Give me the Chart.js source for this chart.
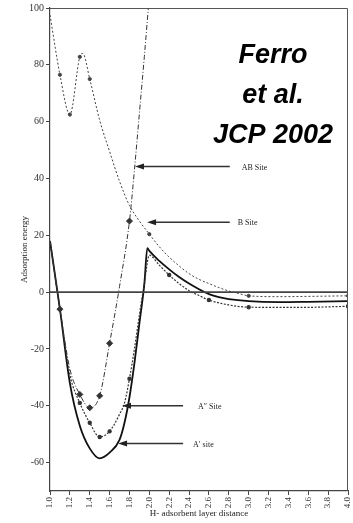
<!DOCTYPE html>
<html><head><meta charset="utf-8">
<script src="https://cdn.jsdelivr.net/npm/chart.js@4/dist/chart.umd.min.js"></script>
<style>html,body{margin:0;padding:0;background:#fff;}#wrap{width:353px;height:523px;}</style>
</head><body><div id="wrap"><canvas id="c" width="353" height="523"></canvas></div>
<script>
// ---- data ----
const xTicks = [1.0,1.2,1.4,1.6,1.8,2.0,2.2,2.4,2.6,2.8,3.0,3.2,3.4,3.6,3.8,4.0];
const yTicks = [-60,-40,-20,0,20,40,60,80,100];

// B site (dotted, upper)
const bX = [1.0,1.1,1.2,1.3,1.33,1.4,1.5,1.6,1.7,1.8,1.9,2.0,2.1,2.2,2.3,2.4,2.5,2.6,2.7,2.8,2.9,3.0,3.3,3.6,4.0];
const bY = [97.5,76.5,62.5,82.8,84,75,60.5,49.5,39,30.5,25,20.4,16,12.3,9.2,6.5,4.5,3,1.6,0.4,-0.5,-1.3,-1.6,-1.5,-1.3];
const bMarks = [1.1,1.2,1.3,1.4,2.0,3.0,4.0];

// AB site (dash-dot, diamonds)
const abX = [1.0,1.1,1.2,1.3,1.4,1.5,1.6,1.7,1.8,1.85,1.9,1.95,1.99];
const abY = [18,-6,-27,-36,-40.7,-36.5,-18,2,25,43,63,83,100];
const abMarks = [1.1,1.3,1.4,1.5,1.6,1.8];

// A'' site (dotted, small markers)
const appX = [1.0,1.1,1.2,1.3,1.4,1.5,1.6,1.7,1.75,1.8,1.85,1.9,1.95,2.0,2.1,2.2,2.3,2.4,2.5,2.6,2.8,3.0,3.5,4.0];
const appY = [18,-6,-29,-39,-46,-51,-49,-43,-39,-30.5,-20,-8,3,13,9.5,6,3,0.5,-1.2,-2.8,-4.5,-5.3,-5.4,-5];
const appMarks = [1.3,1.4,1.5,1.6,1.8,2.2,2.6,3.0,4.0];

// A' site (solid)
const apX = [1.0,1.1,1.2,1.3,1.4,1.5,1.6,1.7,1.75,1.8,1.85,1.9,1.95,1.98,2.0,2.1,2.2,2.3,2.4,2.5,2.6,2.7,2.8,3.0,3.3,3.6,4.0];
const apY = [18,-6,-32,-47,-55,-58.5,-56.5,-52,-46,-37,-25,-11,3,15.5,14.5,11,8,5.3,3,1,-0.7,-1.8,-2.5,-3.2,-3.5,-3.4,-3.2];

const zeroX = [1.0,4.0];
const zeroY = [0,0];

// arrows: label, tip, tail and label positions (data units)
const arrowLabels = ["AB Site","B Site","A\u2033 Site","A\u2032 site"];
const arrowTipX  = [1.856,1.977,1.725,1.685];
const arrowTipY  = [44.2,24.6,-40,-53.3];
const arrowTailX = [2.81,2.81,2.34,2.34];
const arrowTextX = [2.93,2.89,2.49,2.44];

const noteLines = ["Ferro","et al.","JCP 2002"];
const xTitle = "H- adsorbent layer distance";
const yTitle = "Adsorption energy";

const pts = (xs, ys) => xs.map((x,i)=>({x:x,y:ys[i]}));
const markR = (marks, r) => (ctx => (ctx.raw && marks.some(m=>Math.abs(m-ctx.raw.x)<1e-6)) ? r : 0);

const serif = '"Liberation Serif","DejaVu Serif",serif';

const overlay = {
  id:'overlay',
  afterDatasetsDraw(chart){
    const {ctx, chartArea:a, scales:{x,y}} = chart;
    ctx.save();
    ctx.strokeStyle='#555'; ctx.lineWidth=1;
    ctx.beginPath();
    ctx.moveTo(a.left, a.top+0.5); ctx.lineTo(a.right-0.5, a.top+0.5); ctx.lineTo(a.right-0.5, a.bottom);
    ctx.stroke();
    for (let i=0;i<arrowLabels.length;i++){
      const ty = y.getPixelForValue(arrowTipY[i]);
      const tx = x.getPixelForValue(arrowTipX[i]);
      const ex = x.getPixelForValue(arrowTailX[i]);
      ctx.strokeStyle='#333'; ctx.lineWidth=1.6;
      ctx.beginPath(); ctx.moveTo(tx+7, ty); ctx.lineTo(ex, ty); ctx.stroke();
      ctx.fillStyle='#222';
      ctx.beginPath(); ctx.moveTo(tx, ty); ctx.lineTo(tx+9, ty-3); ctx.lineTo(tx+9, ty+3); ctx.closePath(); ctx.fill();
      ctx.font='8px '+serif; ctx.fillStyle='#222'; ctx.textBaseline='middle'; ctx.textAlign='left';
      ctx.fillText(arrowLabels[i], x.getPixelForValue(arrowTextX[i]), ty+1);
    }
    ctx.font='italic bold 27px "Liberation Sans", Arial, sans-serif';
    ctx.fillStyle='#000'; ctx.textAlign='center'; ctx.textBaseline='alphabetic';
    noteLines.forEach((t,i)=>ctx.fillText(t, 273, 63+40*i));
    ctx.restore();
  }
};

const lineDs = (label, data, dash, width, color, marks, r, style) => ({
  label, data, borderColor:color, borderWidth:width, borderDash:dash,
  backgroundColor:color, pointBackgroundColor:color, pointBorderColor:color,
  pointStyle:style||'circle', pointRadius: marks ? markR(marks, r) : 0,
  pointHoverRadius:0, cubicInterpolationMode:'monotone', fill:false
});

new Chart(document.getElementById('c'), {
  type:'line',
  data:{ datasets:[
    lineDs('zero', pts(zeroX,zeroY), [], 1.6, '#444'),
    lineDs('B Site', pts(bX,bY), [2,2], 1, '#444', bMarks, 1.6),
    lineDs('AB Site', pts(abX,abY), [5,2,1,2], 1, '#333', abMarks, 3, 'rectRot'),
    lineDs('A\u2033 Site', pts(appX,appY), [2,1.5], 1.2, '#333', appMarks, 1.6),
    lineDs('A\u2032 site', pts(apX,apY), [], 1.8, '#111')
  ]},
  options:{
    responsive:false, animation:false, devicePixelRatio:1,
    layout:{padding:{top:8,right:5,left:19,bottom:0}},
    plugins:{legend:{display:false}, tooltip:{enabled:false}},
    scales:{
      x:{ type:'linear', min:1, max:4,
        afterBuildTicks:s=>{ s.ticks = xTicks.map(v=>({value:v})); },
        afterFit:s=>{ s.height = 32; s.paddingLeft = 0; s.paddingRight = 0; },
        ticks:{ autoSkip:false, minRotation:90, maxRotation:90, padding:2,
          callback:v=>Number(v).toFixed(1), font:{family:serif,size:9}, color:'#333' },
        grid:{ drawOnChartArea:false, tickLength:4, color:'#444' },
        border:{ color:'#444', width:1.2 },
        title:{ display:true, text:xTitle, font:{family:serif,size:9}, color:'#222', padding:{top:0,bottom:4} }
      },
      y:{ type:'linear', min:-70, max:100,
        afterBuildTicks:s=>{ s.ticks = yTicks.map(v=>({value:v})); },
        afterFit:s=>{ s.width = 31; s.paddingTop = 0; s.paddingBottom = 0; },
        ticks:{ padding:2, font:{family:serif,size:10}, color:'#333' },
        grid:{ drawOnChartArea:false, tickLength:4, color:'#444' },
        border:{ color:'#444', width:1.2 },
        title:{ display:true, text:yTitle, font:{family:serif,size:9}, color:'#222', padding:{top:0,bottom:4} }
      }
    }
  },
  plugins:[overlay]
});
</script>
</body></html>
